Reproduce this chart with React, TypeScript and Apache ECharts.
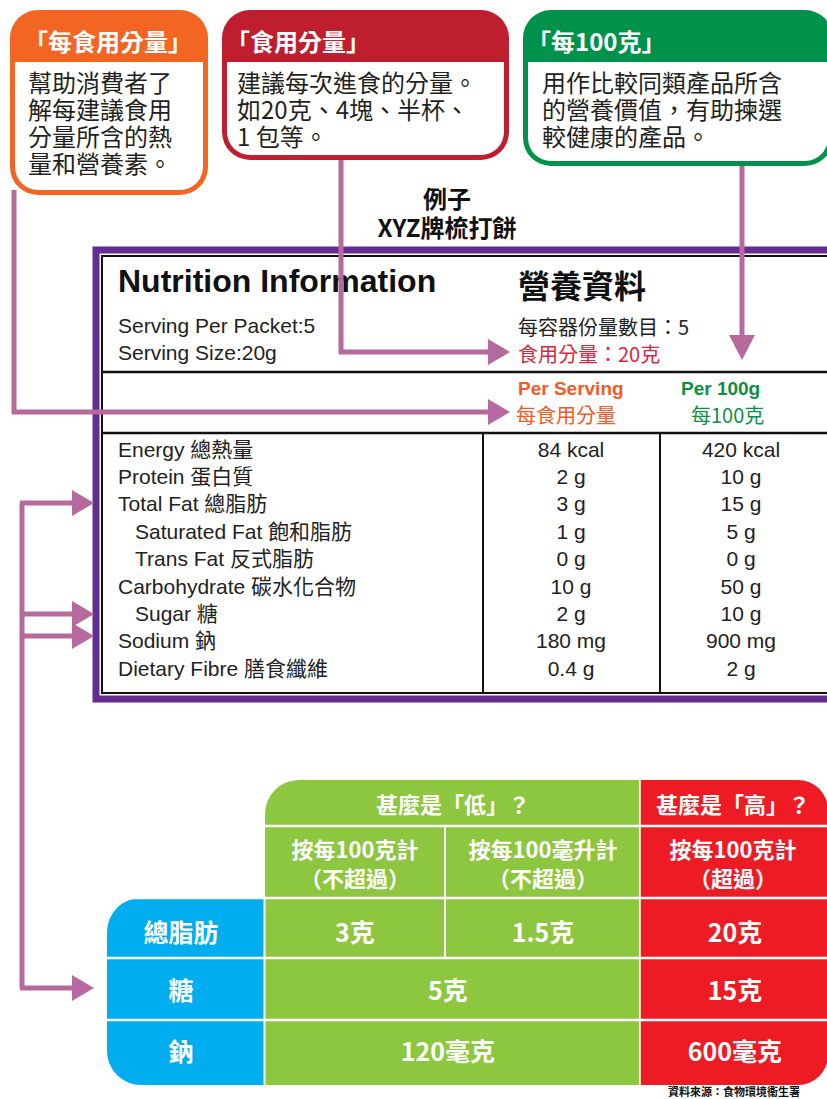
import React, { useEffect, useRef } from "react";
import * as echarts from "echarts";

// ---------- data ----------
const calloutTitles = ["「每食用分量」", "「食用分量」", "「每100克」"];
const calloutBodies = [
  ["幫助消費者了", "解每建議食用", "分量所含的熱", "量和營養素。"],
  ["建議每次進食的分量。", "如20克、4塊、半杯、", "1 包等。"],
  ["用作比較同類產品所含", "的營養價值，有助揀選", "較健康的產品。"],
];
const exampleTitle = ["例子", "XYZ牌梳打餅"];
const headerEn = "Nutrition Information";
const headerZh = "營養資料";
const servingEn = ["Serving Per Packet:5", "Serving Size:20g"];
const servingZh = ["每容器份量數目：5", "食用分量：20克"];
const columnHeads = [
  ["Per Serving", "每食用分量"],
  ["Per 100g", "每100克"],
];
const nutrientLabels = [
  "Energy 總熱量",
  "Protein 蛋白質",
  "Total Fat 總脂肪",
  "Saturated Fat 飽和脂肪",
  "Trans Fat 反式脂肪",
  "Carbohydrate 碳水化合物",
  "Sugar 糖",
  "Sodium 鈉",
  "Dietary Fibre 膳食纖維",
];
const nutrientIndented = [false, false, false, true, true, false, true, false, false];
const perServing = ["84 kcal", "2 g", "3 g", "1 g", "0 g", "10 g", "2 g", "180 mg", "0.4 g"];
const per100g = ["420 kcal", "10 g", "15 g", "5 g", "0 g", "50 g", "10 g", "900 mg", "2 g"];

const criteriaHeads = ["甚麼是「低」？", "甚麼是「高」？"];
const criteriaSubHeads = [
  ["按每100克計", "（不超過）"],
  ["按每100毫升計", "（不超過）"],
  ["按每100克計", "（超過）"],
];
const criteriaRows = ["總脂肪", "糖", "鈉"];
const lowSolid = ["3克", "5克", "120毫克"];
const lowLiquid = ["1.5克", "", ""];
const highSolid = ["20克", "15克", "600毫克"];
const sourceNote = "資料來源：食物環境衞生署";

// ---------- styles ----------
const SANS = "'Liberation Sans', 'Noto Sans CJK TC', sans-serif";
const CJK = "'Noto Sans CJK TC', 'Liberation Sans', sans-serif";
const LINK = "#b5699c";
const calloutBoxes = [
  { x: 10, y: 10, w: 198, h: 185, color: "#f26522", tx: 14, bx: 18 },
  { x: 222, y: 10, w: 287, h: 150, color: "#be1e2d", tx: 4, bx: 15 },
  { x: 523, y: 10, w: 310, h: 156, color: "#00924a", tx: 4, bx: 19 },
];

function txt(text: string, x: number, y: number, font: string, fill: string, align = "left", lh = 0, valign = "middle") {
  const style: any = { text, x, y, font, fill, textAlign: align, textVerticalAlign: valign };
  if (lh) style.lineHeight = lh;
  return { type: "text", silent: true, style };
}

function buildGraphic() {
  const els: any[] = [];

  // callout boxes
  calloutBoxes.forEach((b, i) => {
    els.push({ type: "rect", shape: { x: b.x, y: b.y, width: b.w, height: b.h, r: 28 }, style: { fill: b.color } });
    els.push({
      type: "rect",
      shape: { x: b.x + 5, y: 62, width: b.w - 10, height: b.h - 57, r: [0, 0, 23, 23] },
      style: { fill: "#fff" },
    });
    els.push(txt(calloutTitles[i], b.x + b.tx, 40, `bold 24px ${CJK}`, "#fff"));
    els.push(txt(calloutBodies[i].join("\n"), b.x + b.bx, 67.5, `24px ${CJK}`, "#231f20", "left", 27, "top"));
  });

  // example title
  els.push(txt(exampleTitle.join("\n"), 447, 183, `bold 24px ${CJK}`, "#111", "center", 29, "top"));

  // nutrition label frame
  els.push({ type: "rect", shape: { x: 96, y: 250, width: 760, height: 449 }, style: { fill: "#fff", stroke: "#662d91", lineWidth: 7 } });
  els.push({ type: "rect", shape: { x: 102, y: 256, width: 740, height: 437 }, style: { fill: "none", stroke: "#111", lineWidth: 2 } });
  els.push({ type: "line", shape: { x1: 102, y1: 372, x2: 840, y2: 372 }, style: { stroke: "#111", lineWidth: 2.5 } });
  els.push({ type: "line", shape: { x1: 102, y1: 433, x2: 840, y2: 433 }, style: { stroke: "#111", lineWidth: 2.5 } });
  els.push({ type: "line", shape: { x1: 483, y1: 433, x2: 483, y2: 693 }, style: { stroke: "#111", lineWidth: 2 } });
  els.push({ type: "line", shape: { x1: 660, y1: 433, x2: 660, y2: 693 }, style: { stroke: "#111", lineWidth: 2 } });

  els.push(txt(headerEn, 118, 281, `bold 32px ${SANS}`, "#111"));
  els.push(txt(headerZh, 518, 284, `bold 32px ${CJK}`, "#111"));
  els.push(txt(servingEn[0], 118, 325, `21px ${SANS}`, "#222", "left", 24));
  els.push(txt(servingEn[1], 118, 352, `21px ${SANS}`, "#222", "left", 24));
  els.push(txt(servingZh[0], 518, 326, `20px ${CJK}`, "#222", "left", 24));
  els.push(txt(servingZh[1], 518, 353, `20px ${CJK}`, "#d7263d", "left", 24));
  els.push(txt(columnHeads[0][0], 518, 388, `bold 19px ${SANS}`, "#f15a29", "left", 22));
  els.push(txt(columnHeads[0][1], 516, 414, `20px ${CJK}`, "#f15a29", "left", 22));
  els.push(txt(columnHeads[1][0], 681, 388, `bold 19px ${SANS}`, "#0f8f45", "left", 22));
  els.push(txt(columnHeads[1][1], 691, 414, `20px ${CJK}`, "#0f8f45", "left", 22));

  nutrientLabels.forEach((lab, i) => {
    const y = 449 + i * 27.4;
    els.push(txt(lab, nutrientIndented[i] ? 135 : 118, y, `21px ${SANS}`, "#222", "left", 25));
    els.push(txt(perServing[i], 571, y, `21px ${SANS}`, "#222", "center", 25));
    els.push(txt(per100g[i], 741, y, `21px ${SANS}`, "#222", "center", 25));
  });

  // connectors from callouts (drawn over the label)
  const arrowR = (x: number, y: number) => ({
    type: "polygon",
    shape: { points: [[x - 22, y - 13], [x, y], [x - 22, y + 13]] },
    style: { fill: LINK },
  });
  els.push({ type: "polyline", shape: { points: [[14, 190], [14, 412], [490, 412]] }, style: { stroke: LINK, lineWidth: 5, fill: null } });
  els.push(arrowR(510, 412));
  els.push({ type: "polyline", shape: { points: [[341, 160], [341, 352], [490, 352]] }, style: { stroke: LINK, lineWidth: 5, fill: null } });
  els.push(arrowR(510, 352));
  els.push({ type: "line", shape: { x1: 742, y1: 166, x2: 742, y2: 338 }, style: { stroke: LINK, lineWidth: 5 } });
  els.push({ type: "polygon", shape: { points: [[729, 335], [742, 360], [755, 335]] }, style: { fill: LINK } });

  // left arrows
  const leftYs = [503, 614, 636, 988];
  els.push({ type: "line", shape: { x1: 22, y1: 503, x2: 22, y2: 988 }, style: { stroke: LINK, lineWidth: 5 } });
  leftYs.forEach((y) => {
    els.push({ type: "line", shape: { x1: 20, y1: y, x2: 76, y2: y }, style: { stroke: LINK, lineWidth: 5 } });
    els.push(arrowR(94, y));
  });

  // criteria table
  const GREEN = "#8dc63f";
  const RED = "#ed1c24";
  const BLUE = "#00aeef";
  els.push({ type: "rect", shape: { x: 265, y: 780, width: 376, height: 305, r: [34, 0, 0, 0] }, style: { fill: GREEN } });
  els.push({ type: "rect", shape: { x: 640, y: 780, width: 188, height: 305, r: [0, 30, 30, 0] }, style: { fill: RED } });
  els.push({ type: "rect", shape: { x: 107, y: 898, width: 157, height: 187, r: [34, 0, 0, 34] }, style: { fill: BLUE } });
  const white = (x1: number, y1: number, x2: number, y2: number, w = 2.5) => ({
    type: "line",
    shape: { x1, y1, x2, y2 },
    style: { stroke: "#fff", lineWidth: w },
  });
  els.push(white(265, 826, 830, 826));
  els.push(white(107, 898, 830, 898));
  els.push(white(107, 958, 830, 958));
  els.push(white(107, 1020, 830, 1020));
  els.push(white(264.5, 898, 264.5, 1085, 2));
  els.push(white(445, 826, 445, 958, 2));
  els.push(white(640, 780, 640, 1085, 1.5));

  const HB = `bold 22px ${CJK}`;
  els.push(txt(criteriaHeads[0], 453, 803, HB, "#fff", "center", 26));
  els.push(txt(criteriaHeads[1], 733, 803, HB, "#fff", "center", 26));
  const subX = [355, 543, 733];
  criteriaSubHeads.forEach((s, i) => {
    els.push(txt(s[0], subX[i], 848, HB, "#fff", "center", 26));
    els.push(txt(s[1], subX[i], 877, HB, "#fff", "center", 26));
  });
  const rowYs = [931, 989, 1050];
  const VB = `bold 25px ${CJK}`;
  criteriaRows.forEach((r, i) => {
    els.push(txt(r, 181, rowYs[i], VB, "#fff", "center", 28));
    if (lowLiquid[i]) {
      els.push(txt(lowSolid[i], 355, rowYs[i], VB, "#fff", "center", 28));
      els.push(txt(lowLiquid[i], 543, rowYs[i], VB, "#fff", "center", 28));
    } else {
      els.push(txt(lowSolid[i], 448, rowYs[i], VB, "#fff", "center", 28));
    }
    els.push(txt(highSolid[i], 735, rowYs[i], VB, "#fff", "center", 28));
  });

  els.push(txt(sourceNote, 800, 1091, `bold 11px ${CJK}`, "#111", "right", 12));
  return els;
}

export default function App() {
  const ref = useRef<HTMLDivElement>(null);
  useEffect(() => {
    if (!ref.current) return;
    const chart = echarts.init(ref.current, null, { renderer: "svg" });
    chart.setOption({
      animation: false,
      backgroundColor: "#ffffff",
      graphic: { elements: buildGraphic() },
    });
    return () => chart.dispose();
  }, []);
  return (
    <div
      ref={ref}
      style={{ position: "absolute", left: 0, top: 0, width: 827, height: 1099, background: "#fff" }}
    />
  );
}
